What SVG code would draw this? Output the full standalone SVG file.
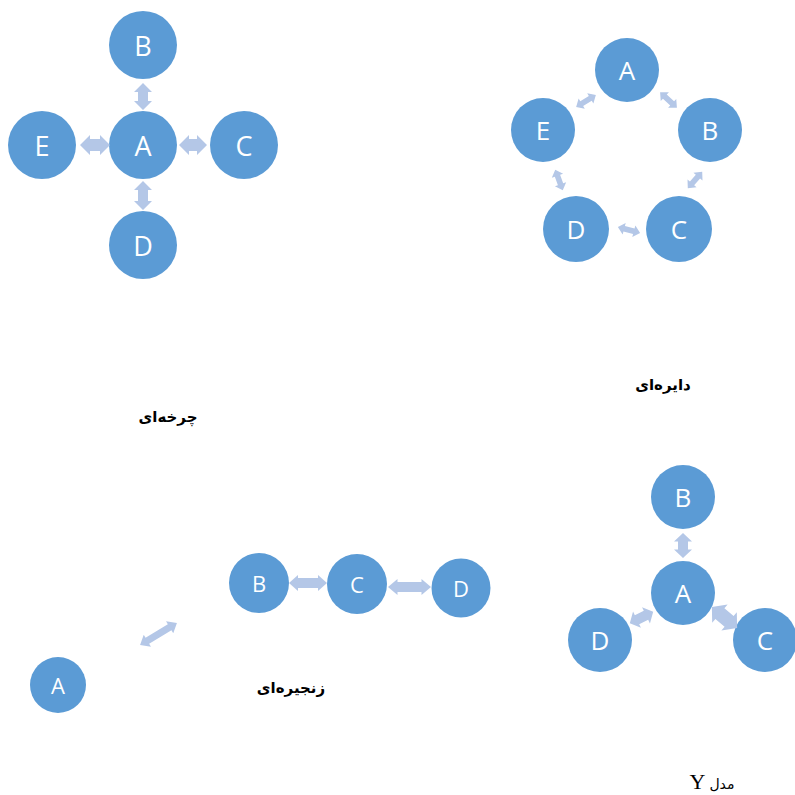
<svg xmlns="http://www.w3.org/2000/svg" width="795" height="795" viewBox="0 0 795 795">
<style>
.n{fill:#5B9BD5}
.t{fill:#fff;font-family:"Open Sans","Liberation Sans",sans-serif;text-anchor:middle;dominant-baseline:central}
.a{fill:#B4C7E7}
.lb{font-family:"DejaVu Sans",sans-serif;font-weight:bold;font-size:15px;text-anchor:middle;fill:#000}
</style>
<rect width="795" height="795" fill="#fff"/>
<!-- Wheel -->
<g id="wheel">
<g id="w-B"><circle class="n" cx="143" cy="45" r="34"/><text class="t" x="143" y="45" font-size="27">B</text></g>
<g id="w-A"><circle class="n" cx="143" cy="145" r="34"/><text class="t" x="143" y="145" font-size="27">A</text></g>
<g id="w-E"><circle class="n" cx="42" cy="145" r="34"/><text class="t" x="42" y="145" font-size="27">E</text></g>
<g id="w-C"><circle class="n" cx="244" cy="145" r="34"/><text class="t" x="244" y="145" font-size="27">C</text></g>
<g id="w-D"><circle class="n" cx="143" cy="245" r="34"/><text class="t" x="143" y="245" font-size="27">D</text></g>
</g>
<g id="wheel-connectors">
<path class="a" transform="translate(143,96.5) rotate(90)" d="M-13.5,0 L-4.5,-9 L-4.5,-5 L4.5,-5 L4.5,-9 L13.5,0 L4.5,9 L4.5,5 L-4.5,5 L-4.5,9 Z"/>
<path class="a" transform="translate(95,145)" d="M-15,0 L-5,-10 L-5,-6 L5,-6 L5,-10 L15,0 L5,10 L5,6 L-5,6 L-5,10 Z"/>
<path class="a" transform="translate(193,145)" d="M-14,0 L-4,-10 L-4,-6 L4,-6 L4,-10 L14,0 L4,10 L4,6 L-4,6 L-4,10 Z"/>
<path class="a" transform="translate(143,195.5) rotate(90)" d="M-14.5,0 L-5.5,-9 L-5.5,-5 L5.5,-5 L5.5,-9 L14.5,0 L5.5,9 L5.5,5 L-5.5,5 L-5.5,9 Z"/>
</g>
<text class="lb" x="168" y="422">چرخه‌ای</text>
<!-- Circle -->
<g id="circle">
<g id="c-A"><circle class="n" cx="627" cy="70" r="32"/><text class="t" x="627" y="70" font-size="26">A</text></g>
<g id="c-B"><circle class="n" cx="710" cy="130" r="32"/><text class="t" x="710" y="130" font-size="26">B</text></g>
<g id="c-E"><circle class="n" cx="543" cy="130" r="32"/><text class="t" x="543" y="130" font-size="26">E</text></g>
<g id="c-D"><circle class="n" cx="576" cy="229" r="33"/><text class="t" x="576" y="229" font-size="26">D</text></g>
<g id="c-C"><circle class="n" cx="679" cy="229" r="33"/><text class="t" x="679" y="229" font-size="26">C</text></g>
</g>
<g id="circle-connectors">
<path class="a" transform="translate(586,101) rotate(-31)" d="M-11.5,0 L-5,-6 L-5,-2.8 L5,-2.8 L5,-6 L11.5,0 L5,6 L5,2.8 L-5,2.8 L-5,6 Z"/>
<path class="a" transform="translate(668.5,100) rotate(43)" d="M-11.5,0 L-5,-6 L-5,-2.8 L5,-2.8 L5,-6 L11.5,0 L5,6 L5,2.8 L-5,2.8 L-5,6 Z"/>
<path class="a" transform="translate(695,180) rotate(131)" d="M-11,0 L-4.5,-6 L-4.5,-2.8 L4.5,-2.8 L4.5,-6 L11,0 L4.5,6 L4.5,2.8 L-4.5,2.8 L-4.5,6 Z"/>
<path class="a" transform="translate(629,230) rotate(15)" d="M-11.5,0 L-5,-6 L-5,-2.8 L5,-2.8 L5,-6 L11.5,0 L5,6 L5,2.8 L-5,2.8 L-5,6 Z"/>
<path class="a" transform="translate(559,180) rotate(70)" d="M-11,0 L-4.5,-6 L-4.5,-2.8 L4.5,-2.8 L4.5,-6 L11,0 L4.5,6 L4.5,2.8 L-4.5,2.8 L-4.5,6 Z"/>
</g>
<text class="lb" x="663" y="390">دایره‌ای</text>
<!-- Chain -->
<g id="chain">
<g id="ch-B"><circle class="n" cx="259" cy="583" r="30"/><text class="t" x="259" y="583" font-size="22">B</text></g>
<g id="ch-C"><circle class="n" cx="357" cy="584" r="30"/><text class="t" x="357" y="584" font-size="22">C</text></g>
<g id="ch-D"><circle class="n" cx="461" cy="588" r="29.5"/><text class="t" x="461" y="588" font-size="22">D</text></g>
<g id="ch-A"><circle class="n" cx="58" cy="685" r="28"/><text class="t" x="58" y="685" font-size="22">A</text></g>
</g>
<g id="chain-connectors">
<path class="a" transform="translate(308,583)" d="M-19,0 L-10,-8 L-10,-5 L10,-5 L10,-8 L19,0 L10,8 L10,5 L-10,5 L-10,8 Z"/>
<path class="a" transform="translate(409.5,587)" d="M-21.5,0 L-12,-8 L-12,-5 L12,-5 L12,-8 L21.5,0 L12,8 L12,5 L-12,5 L-12,8 Z"/>
<path class="a" transform="translate(158.5,634) rotate(-31)" d="M-21.5,0 L-13,-7 L-13,-3.5 L13,-3.5 L13,-7 L21.5,0 L13,7 L13,3.5 L-13,3.5 L-13,7 Z"/>
</g>
<text class="lb" x="291" y="693">زنجیره‌ای</text>
<!-- Y model -->
<g id="ymodel">
<g id="y-B"><circle class="n" cx="683" cy="497" r="32"/><text class="t" x="683" y="497" font-size="26">B</text></g>
<g id="y-A"><circle class="n" cx="683" cy="593" r="32"/><text class="t" x="683" y="593" font-size="26">A</text></g>
<g id="y-D"><circle class="n" cx="600" cy="640" r="32"/><text class="t" x="600" y="640" font-size="26">D</text></g>
<g id="y-C"><circle class="n" cx="765" cy="640" r="32"/><text class="t" x="765" y="640" font-size="26">C</text></g>
</g>
<g id="y-connectors">
<path class="a" transform="translate(683,545.5) rotate(90)" d="M-12.5,0 L-4,-9 L-4,-5 L4,-5 L4,-9 L12.5,0 L4,9 L4,5 L-4,5 L-4,9 Z"/>
<path class="a" transform="translate(641.5,617.5) rotate(-26)" d="M-13,0 L-5,-9 L-5,-5 L5,-5 L5,-9 L13,0 L5,9 L5,5 L-5,5 L-5,9 Z"/>
<path class="a" transform="translate(724.5,617.5) rotate(40)" d="M-16.5,0 L-6,-12 L-6,-7 L6,-7 L6,-12 L16.5,0 L6,12 L6,7 L-6,7 L-6,12 Z"/>
</g>
<text x="712" y="789" font-size="16" text-anchor="middle" font-family="'Liberation Serif','DejaVu Serif',serif" fill="#000"><tspan font-size="22">Y</tspan> <tspan font-family="'DejaVu Sans',sans-serif" font-size="14">مدل</tspan></text>
</svg>
